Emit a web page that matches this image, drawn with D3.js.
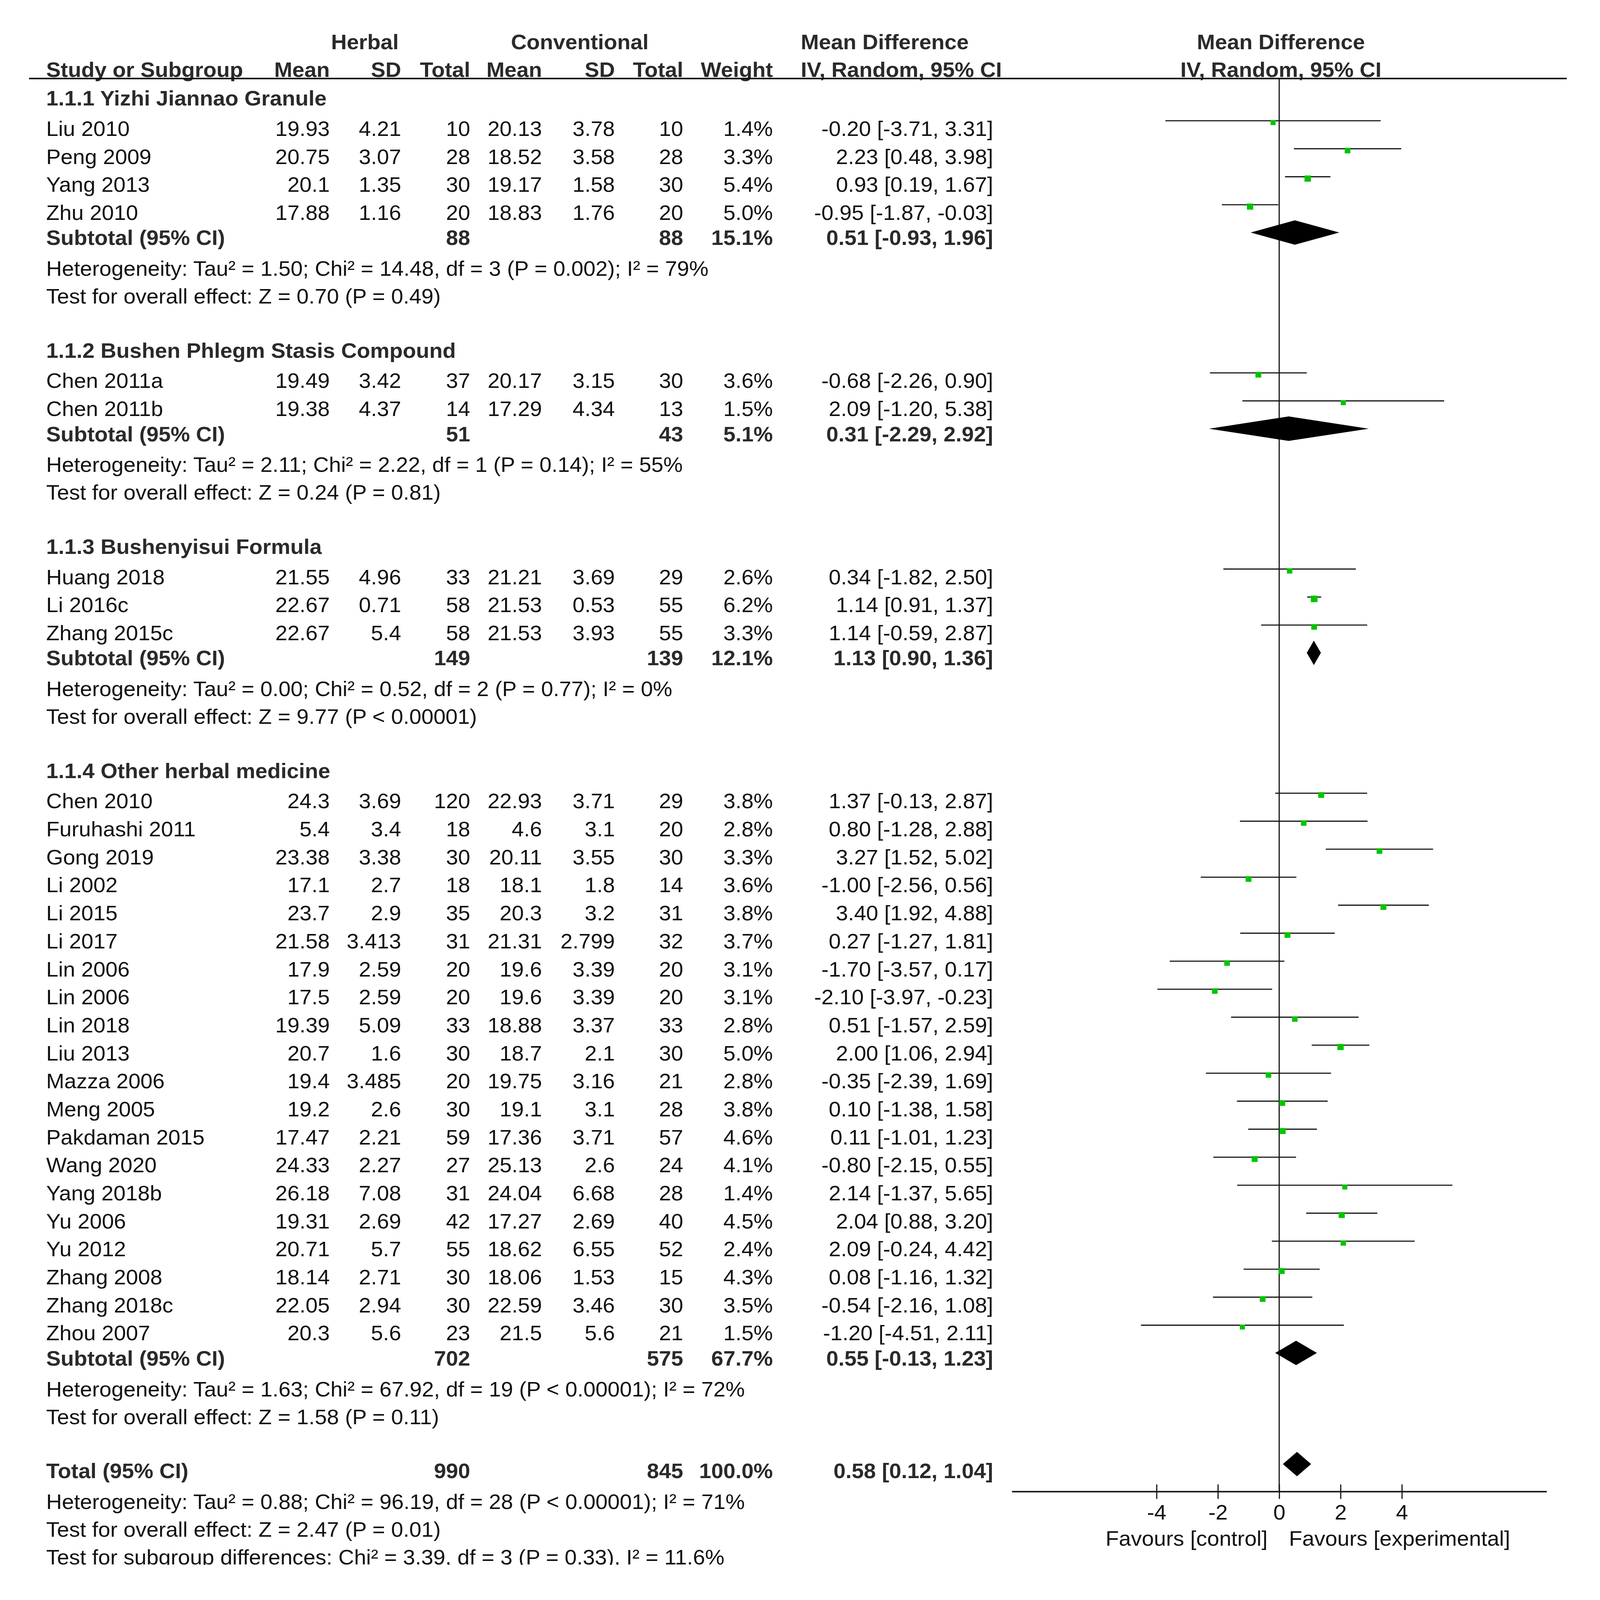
<!DOCTYPE html>
<html>
<head>
<meta charset="utf-8">
<script src="https://cdn.jsdelivr.net/npm/d3@7"></script>
<style>
  body { margin: 0; background: #fff; overflow: hidden; }
  text { font-family: "Liberation Sans", Arial, sans-serif; font-size: 57px; fill: #111; }
  .b { font-weight: bold; fill: #2a2a2a; }
</style>
</head>
<body>
<div id="chart"></div>
<script>
// subgroups
const groupTitles = [
    "1.1.1 Yizhi Jiannao Granule",
    "1.1.2 Bushen Phlegm Stasis Compound",
    "1.1.3 Bushenyisui Formula",
    "1.1.4 Other herbal medicine"
];

// studies
const studyNames = ["Liu 2010", "Peng 2009", "Yang 2013", "Zhu 2010",
    "Chen 2011a", "Chen 2011b",
    "Huang 2018", "Li 2016c", "Zhang 2015c",
    "Chen 2010", "Furuhashi 2011", "Gong 2019", "Li 2002", "Li 2015", "Li 2017", "Lin 2006", "Lin 2006",
    "Lin 2018", "Liu 2013", "Mazza 2006", "Meng 2005", "Pakdaman 2015", "Wang 2020", "Yang 2018b",
    "Yu 2006", "Yu 2012", "Zhang 2008", "Zhang 2018c", "Zhou 2007"];
const studyGroup = [0, 0, 0, 0, 1, 1, 2, 2, 2,
    3, 3, 3, 3, 3, 3, 3, 3, 3, 3, 3, 3, 3, 3, 3, 3, 3, 3, 3, 3];
const herbalMean = ["19.93", "20.75", "20.1", "17.88", "19.49", "19.38", "21.55", "22.67", "22.67",
    "24.3", "5.4", "23.38", "17.1", "23.7", "21.58", "17.9", "17.5", "19.39", "20.7", "19.4", "19.2",
    "17.47", "24.33", "26.18", "19.31", "20.71", "18.14", "22.05", "20.3"];
const herbalSD = ["4.21", "3.07", "1.35", "1.16", "3.42", "4.37", "4.96", "0.71", "5.4",
    "3.69", "3.4", "3.38", "2.7", "2.9", "3.413", "2.59", "2.59", "5.09", "1.6", "3.485", "2.6",
    "2.21", "2.27", "7.08", "2.69", "5.7", "2.71", "2.94", "5.6"];
const herbalTotal = [10, 28, 30, 20, 37, 14, 33, 58, 58,
    120, 18, 30, 18, 35, 31, 20, 20, 33, 30, 20, 30, 59, 27, 31, 42, 55, 30, 30, 23];
const convMean = ["20.13", "18.52", "19.17", "18.83", "20.17", "17.29", "21.21", "21.53", "21.53",
    "22.93", "4.6", "20.11", "18.1", "20.3", "21.31", "19.6", "19.6", "18.88", "18.7", "19.75", "19.1",
    "17.36", "25.13", "24.04", "17.27", "18.62", "18.06", "22.59", "21.5"];
const convSD = ["3.78", "3.58", "1.58", "1.76", "3.15", "4.34", "3.69", "0.53", "3.93",
    "3.71", "3.1", "3.55", "1.8", "3.2", "2.799", "3.39", "3.39", "3.37", "2.1", "3.16", "3.1",
    "3.71", "2.6", "6.68", "2.69", "6.55", "1.53", "3.46", "5.6"];
const convTotal = [10, 28, 30, 20, 30, 13, 29, 55, 55,
    29, 20, 30, 14, 31, 32, 20, 20, 33, 30, 21, 28, 57, 24, 28, 40, 52, 15, 30, 21];
const studyWeight = [1.4, 3.3, 5.4, 5.0, 3.6, 1.5, 2.6, 6.2, 3.3,
    3.8, 2.8, 3.3, 3.6, 3.8, 3.7, 3.1, 3.1, 2.8, 5.0, 2.8, 3.8, 4.6, 4.1, 1.4, 4.5, 2.4, 4.3, 3.5, 1.5];
const studyMD = [-0.20, 2.23, 0.93, -0.95, -0.68, 2.09, 0.34, 1.14, 1.14,
    1.37, 0.80, 3.27, -1.00, 3.40, 0.27, -1.70, -2.10, 0.51, 2.00, -0.35, 0.10, 0.11, -0.80, 2.14,
    2.04, 2.09, 0.08, -0.54, -1.20];
const studyLow = [-3.71, 0.48, 0.19, -1.87, -2.26, -1.20, -1.82, 0.91, -0.59,
    -0.13, -1.28, 1.52, -2.56, 1.92, -1.27, -3.57, -3.97, -1.57, 1.06, -2.39, -1.38, -1.01, -2.15, -1.37,
    0.88, -0.24, -1.16, -2.16, -4.51];
const studyHigh = [3.31, 3.98, 1.67, -0.03, 0.90, 5.38, 2.50, 1.37, 2.87,
    2.87, 2.88, 5.02, 0.56, 4.88, 1.81, 0.17, -0.23, 2.59, 2.94, 1.69, 1.58, 1.23, 0.55, 5.65,
    3.20, 4.42, 1.32, 1.08, 2.11];

// subtotals
const subHerbalTotal = [88, 51, 149, 702];
const subConvTotal = [88, 43, 139, 575];
const subWeight = [15.1, 5.1, 12.1, 67.7];
const subMD = [0.51, 0.31, 1.13, 0.55];
const subLow = [-0.93, -2.29, 0.90, -0.13];
const subHigh = [1.96, 2.92, 1.36, 1.23];
const subHet = [
    "Heterogeneity: Tau² = 1.50; Chi² = 14.48, df = 3 (P = 0.002); I² = 79%",
    "Heterogeneity: Tau² = 2.11; Chi² = 2.22, df = 1 (P = 0.14); I² = 55%",
    "Heterogeneity: Tau² = 0.00; Chi² = 0.52, df = 2 (P = 0.77); I² = 0%",
    "Heterogeneity: Tau² = 1.63; Chi² = 67.92, df = 19 (P < 0.00001); I² = 72%"
];
const subTest = [
    "Test for overall effect: Z = 0.70 (P = 0.49)",
    "Test for overall effect: Z = 0.24 (P = 0.81)",
    "Test for overall effect: Z = 9.77 (P < 0.00001)",
    "Test for overall effect: Z = 1.58 (P = 0.11)"
];

// overall
const totalHerbal = 990, totalConv = 845, totalWeight = 100.0;
const totalMD = 0.58, totalLow = 0.12, totalHigh = 1.04;
const totalNotes = [
    "Heterogeneity: Tau² = 0.88; Chi² = 96.19, df = 28 (P < 0.00001); I² = 71%",
    "Test for overall effect: Z = 2.47 (P = 0.01)",
    "Test for subgroup differences: Chi² = 3.39, df = 3 (P = 0.33), I² = 11.6%"
];

const tickValues = [-4, -2, 0, 2, 4];
const favourLabels = ["Favours [control]", "Favours [experimental]"];

// ---- layout ----
// drawing is laid out in the reference's 4192x4320 frame; the photo only keeps 4096x4096
const W = 4192, H = 4320;
const leftX = 121;
const col = {m1: 864, sd1: 1051, n1: 1232, m2: 1420, sd2: 1611, n2: 1790, w: 2025, ci: 2602};
const ruleY = 212, axisY = 4027;

const svg = d3.select("#chart").append("svg")
    .attr("width", 4096)
    .attr("height", 4096)
    .attr("viewBox", `0 0 ${W} ${H}`)
    .attr("preserveAspectRatio", "none")
    .style("display", "block")
    .style("background", "#fff");

const x = d3.scaleLinear().domain([-8.72, 8.72]).range([2651, 4052]);

const loc = d3.formatLocale({decimal: ".", thousands: ",", grouping: [3], currency: ["", ""], minus: "-"});
const fmt2 = loc.format(".2f");
const ciText = (m, l, h) => fmt2(m) + " [" + fmt2(l) + ", " + fmt2(h) + "]";

function txt(str, xPos, y, anchor, bold) {
    return svg.append("text")
        .attr("x", xPos)
        .attr("y", y)
        .attr("text-anchor", anchor || "start")
        .attr("class", bold ? "b" : null)
        .text(str);
}

// headers
txt("Herbal", 956, 133, "middle", true);
txt("Conventional", 1519, 133, "middle", true);
txt("Mean Difference", 2098, 133, "start", true);
txt("Mean Difference", 3356, 133, "middle", true);
txt("Study or Subgroup", leftX, 208, "start", true);
txt("Mean", col.m1, 208, "end", true);
txt("SD", col.sd1, 208, "end", true);
txt("Total", col.n1, 208, "end", true);
txt("Mean", col.m2, 208, "end", true);
txt("SD", col.sd2, 208, "end", true);
txt("Total", col.n2, 208, "end", true);
txt("Weight", col.w, 208, "end", true);
txt("IV, Random, 95% CI", 2098, 208, "start", true);
txt("IV, Random, 95% CI", 3356, 208, "middle", true);

svg.append("line")
    .attr("x1", 76).attr("x2", 4105)
    .attr("y1", ruleY).attr("y2", ruleY)
    .attr("stroke", "#111").attr("stroke-width", 4);

// zero line
svg.append("line")
    .attr("x1", x(0)).attr("x2", x(0))
    .attr("y1", ruleY).attr("y2", axisY)
    .attr("stroke", "#111").attr("stroke-width", 3);

const plot = svg.append("g");

function diamond(m, l, h, cy, half) {
    plot.append("path")
        .attr("d", `M${x(l)},${cy} L${x(m)},${cy - half} L${x(h)},${cy} L${x(m)},${cy + half} Z`)
        .attr("fill", "#000");
}

let y = 285;
groupTitles.forEach((title, g) => {
    txt(title, leftX, y, "start", true);
    y += 82;
    const idx = d3.range(studyNames.length).filter(i => studyGroup[i] === g);
    idx.forEach((i, k) => {
        if (k > 0) y += 75.6;
        txt(studyNames[i], leftX, y);
        txt(herbalMean[i], col.m1, y, "end");
        txt(herbalSD[i], col.sd1, y, "end");
        txt(herbalTotal[i], col.n1, y, "end");
        txt(convMean[i], col.m2, y, "end");
        txt(convSD[i], col.sd2, y, "end");
        txt(convTotal[i], col.n2, y, "end");
        txt(studyWeight[i].toFixed(1) + "%", col.w, y, "end");
        txt(ciText(studyMD[i], studyLow[i], studyHigh[i]), col.ci, y, "end");
        const ly = y - 41;
        plot.append("line")
            .attr("x1", x(studyLow[i])).attr("x2", x(studyHigh[i]))
            .attr("y1", ly).attr("y2", ly)
            .attr("stroke", "#111").attr("stroke-width", 3);
        const s = 12 + 0.9 * studyWeight[i];
        plot.append("rect")
            .attr("x", x(studyMD[i]) - s / 2)
            .attr("y", ly + 5 - s / 2)
            .attr("width", s).attr("height", s)
            .attr("fill", "#00c400");
    });
    y += 68;
    txt("Subtotal (95% CI)", leftX, y, "start", true);
    txt(subHerbalTotal[g], col.n1, y, "end", true);
    txt(subConvTotal[g], col.n2, y, "end", true);
    txt(subWeight[g].toFixed(1) + "%", col.w, y, "end", true);
    txt(ciText(subMD[g], subLow[g], subHigh[g]), col.ci, y, "end", true);
    diamond(subMD[g], subLow[g], subHigh[g], y - 34, 33);
    y += 83;
    txt(subHet[g], leftX, y);
    y += 75;
    txt(subTest[g], leftX, y);
    y += 146;
});

// overall
txt("Total (95% CI)", leftX, y, "start", true);
txt(totalHerbal, col.n1, y, "end", true);
txt(totalConv, col.n2, y, "end", true);
txt(totalWeight.toFixed(1) + "%", col.w, y, "end", true);
txt(ciText(totalMD, totalLow, totalHigh), col.ci, y, "end", true);
diamond(totalMD, totalLow, totalHigh, y - 38, 33);
y += 83;

svg.append("clipPath").attr("id", "cut")
    .append("rect").attr("x", 0).attr("y", 0).attr("width", W).attr("height", 4225);
totalNotes.forEach((n, k) => {
    txt(n, leftX, y + k * 75).attr("clip-path", "url(#cut)");
});

// axis
const axis = svg.append("g")
    .attr("transform", `translate(0,${axisY})`)
    .call(d3.axisBottom(x).tickValues(tickValues).tickSizeOuter(0).tickFormat(loc.format("d")));
axis.select(".domain").attr("stroke", "#111").attr("stroke-width", 4);
axis.selectAll(".tick line").attr("y1", -19).attr("y2", 20)
    .attr("stroke", "#111").attr("stroke-width", 3);
axis.selectAll(".tick text")
    .attr("y", 76).attr("dy", null)
    .style("font-size", "57px")
    .style("font-family", "\"Liberation Sans\", Arial, sans-serif")
    .attr("fill", "#111");

txt(favourLabels[0], 3321, 4173, "end");
txt(favourLabels[1], 3377, 4173, "start");
</script>
</body>
</html>
